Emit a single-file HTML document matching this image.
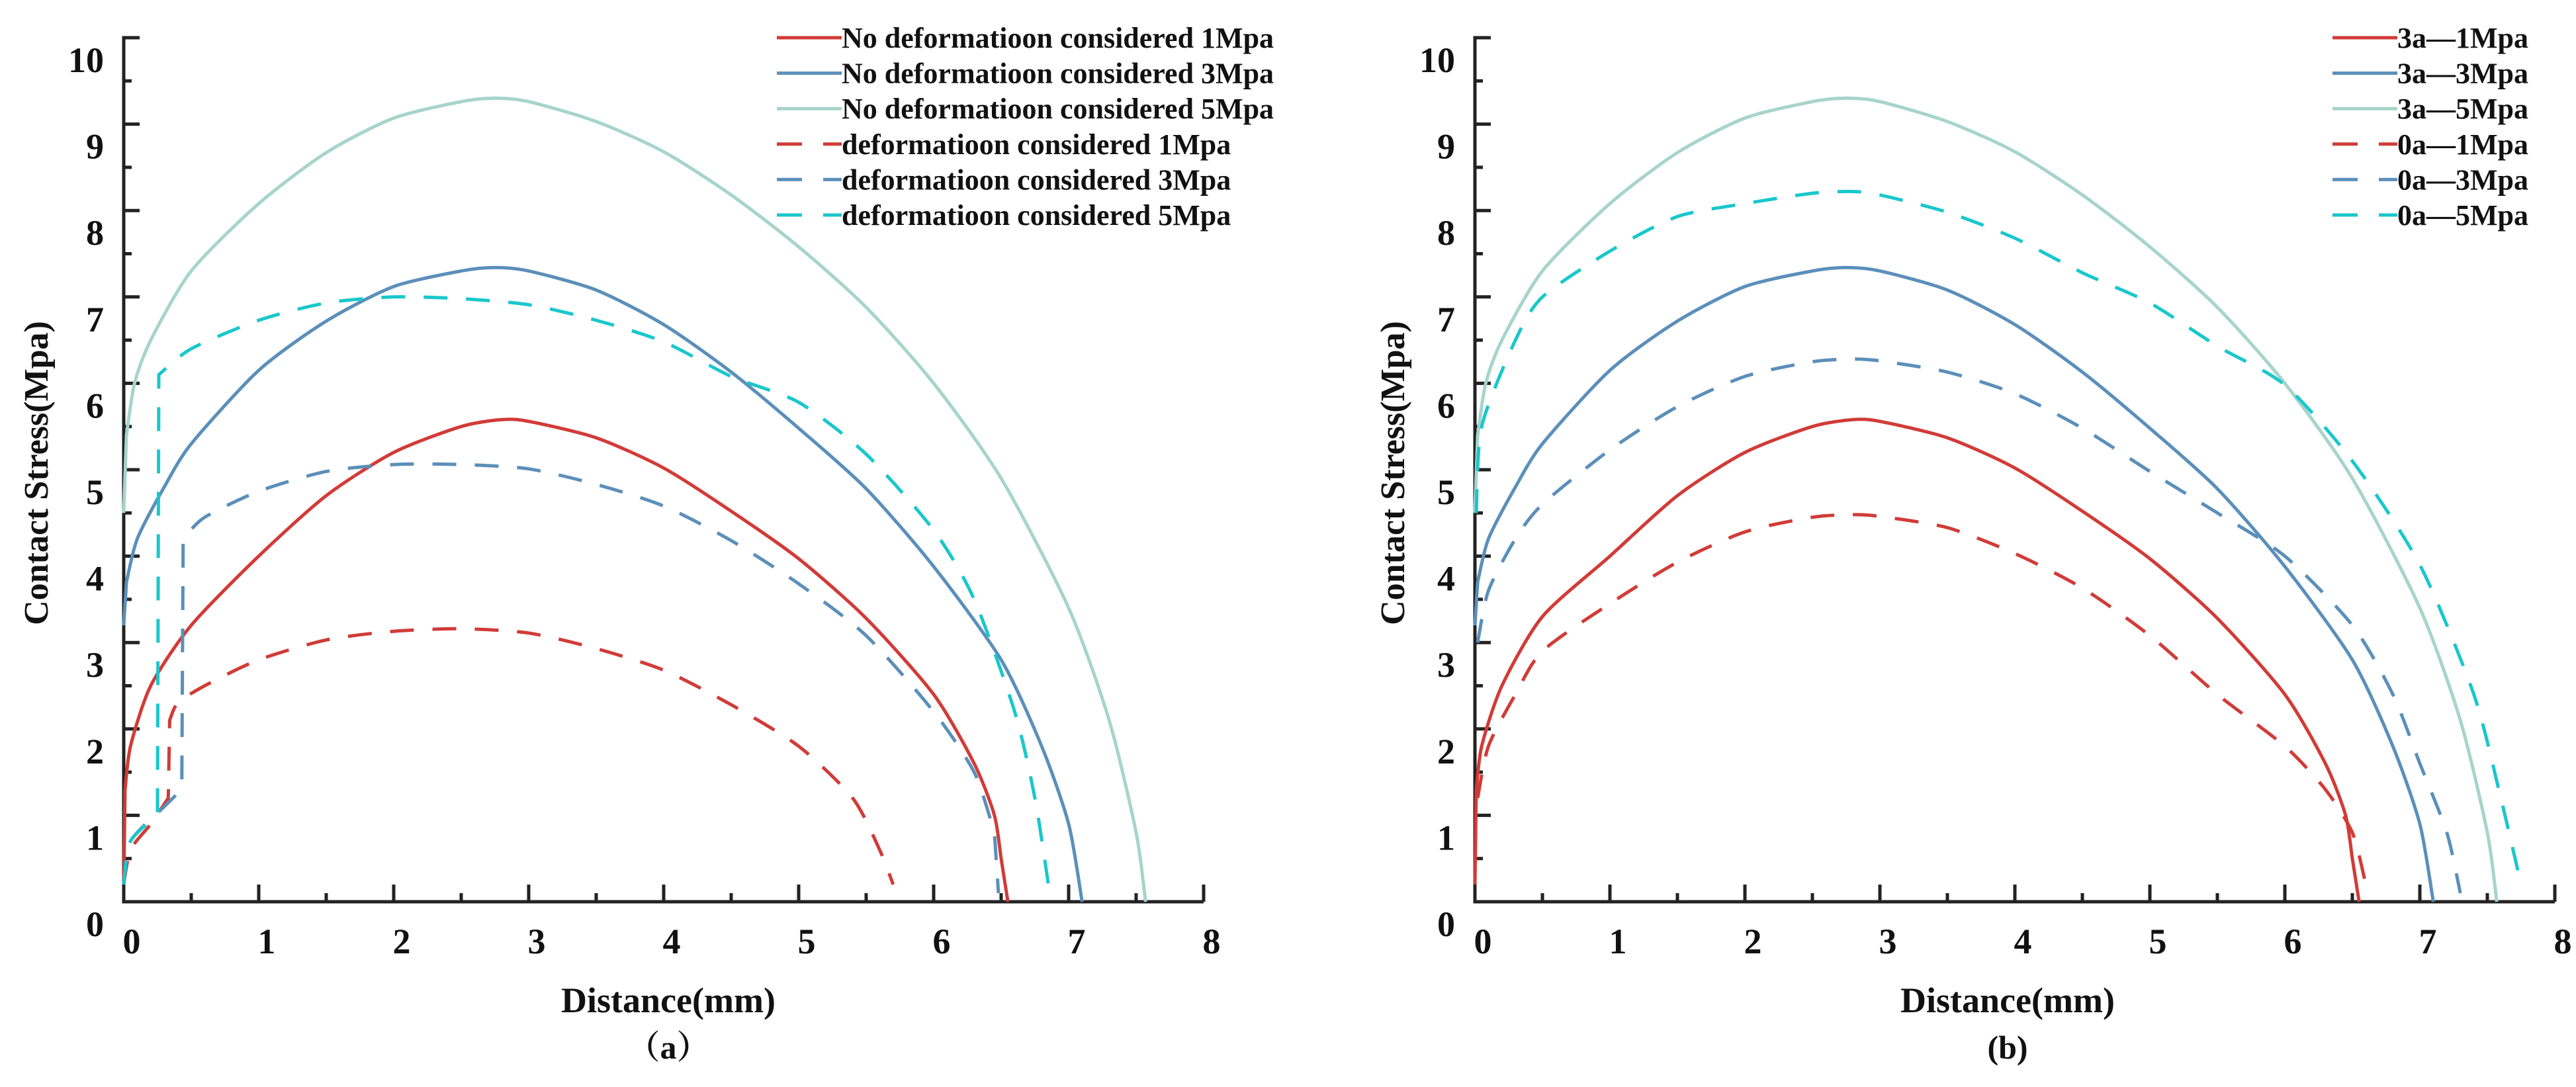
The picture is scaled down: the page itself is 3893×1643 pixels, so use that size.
<!DOCTYPE html>
<html><head><meta charset="utf-8"><style>
html,body{margin:0;padding:0;background:#fff;}
svg{display:block;}
text{font-family:"Liberation Serif",serif;font-weight:bold;fill:#111;}
</style></head><body>
<svg id="fig" width="3893" height="1643" viewBox="0 0 3893 1643" xmlns="http://www.w3.org/2000/svg"></svg>
<script>
// ---- Panel (a) data ----
const aRedSolidX = [0,0.01,0.05,0.2,0.5,1,1.5,2,2.5,2.8,3,3.5,4,4.5,5,5.5,6,6.3,6.45,6.5,6.55];
const aRedSolidY = [0.2,1.3,1.8,2.5,3.2,4.0,4.7,5.2,5.5,5.58,5.56,5.37,5.02,4.52,3.97,3.28,2.4,1.6,1.0,0.5,0];
const aBlueSolidX = [0,0.02,0.1,0.3,0.5,1,1.5,2,2.5,2.75,3,3.5,4,4.5,5,5.5,6,6.5,6.8,7,7.1];
const aBlueSolidY = [3.2,3.7,4.2,4.8,5.3,6.15,6.72,7.12,7.3,7.34,7.3,7.08,6.68,6.13,5.48,4.78,3.88,2.8,1.8,0.9,0];
const aTealSolidX = [0,0.02,0.08,0.2,0.5,1,1.5,2,2.5,2.75,3,3.5,4,4.5,5,5.5,6,6.5,7,7.3,7.5,7.57];
const aTealSolidY = [4.5,5.4,6.0,6.5,7.3,8.08,8.67,9.07,9.26,9.3,9.26,9.03,8.68,8.18,7.58,6.88,6.0,4.9,3.4,2.1,0.8,0];
const aRedDashX = [0,0.05,0.2,0.33,0.34,0.4,0.6,1,1.5,2,2.5,3,3.5,4,4.5,5,5.4,5.6,5.7];
const aRedDashY = [0.2,0.6,0.9,1.2,2.1,2.3,2.5,2.8,3.03,3.13,3.16,3.11,2.93,2.68,2.28,1.8,1.2,0.6,0.2];
const aBlueDashX = [0,0.05,0.3,0.43,0.44,0.6,1,1.5,2,2.5,3,3.5,4,4.5,5,5.5,6,6.3,6.45,6.48];
const aBlueDashY = [0.2,0.7,1.1,1.3,4.2,4.45,4.75,4.98,5.06,5.06,5.01,4.83,4.58,4.18,3.68,3.08,2.2,1.5,0.8,0.1];
const aCyanDashX = [0,0.05,0.25,0.26,0.5,1,1.5,2,2.5,3,3.5,4,4.5,5,5.5,6,6.3,6.6,6.75,6.85];
const aCyanDashY = [0.2,0.7,1.0,6.1,6.4,6.73,6.93,7.0,6.98,6.91,6.73,6.48,6.08,5.78,5.18,4.3,3.5,2.2,1.2,0.2];
// ---- Panel (b) data ----
const b3a1X = [0,0.01,0.05,0.2,0.5,1,1.5,2,2.5,2.8,3,3.5,4,4.5,5,5.5,6,6.3,6.45,6.5,6.55];
const b3a1Y = [0.2,1.3,1.8,2.5,3.3,4.0,4.7,5.2,5.5,5.58,5.56,5.37,5.02,4.52,3.97,3.28,2.4,1.6,1.0,0.5,0];
const b3a3X = [0,0.02,0.1,0.3,0.5,1,1.5,2,2.5,2.75,3,3.5,4,4.5,5,5.5,6,6.5,6.8,7,7.1];
const b3a3Y = [3.2,3.7,4.2,4.8,5.3,6.15,6.72,7.12,7.3,7.34,7.3,7.08,6.68,6.13,5.48,4.78,3.88,2.8,1.8,0.9,0];
const b3a5X = [0,0.02,0.08,0.2,0.5,1,1.5,2,2.5,2.75,3,3.5,4,4.5,5,5.5,6,6.5,7,7.3,7.5,7.57];
const b3a5Y = [4.5,5.4,6.0,6.5,7.3,8.08,8.67,9.07,9.26,9.3,9.26,9.03,8.68,8.18,7.58,6.88,6.0,4.9,3.4,2.1,0.8,0];
const b0a1X = [0.02,0.1,0.3,0.5,1,1.5,2,2.5,2.8,3,3.5,4,4.5,5,5.5,6,6.3,6.5,6.6];
const b0a1Y = [1.2,1.8,2.4,2.9,3.45,3.93,4.28,4.45,4.48,4.46,4.33,4.03,3.63,3.08,2.4,1.8,1.3,0.8,0.2];
const b0a3X = [0.02,0.1,0.3,0.5,1,1.5,2,2.5,2.8,3,3.5,4,4.5,5,5.5,6,6.5,6.8,7.0,7.2,7.3];
const b0a3Y = [3.0,3.6,4.2,4.6,5.23,5.73,6.08,6.25,6.28,6.26,6.13,5.88,5.48,4.98,4.5,4.0,3.2,2.4,1.6,0.8,0.1];
const b0a5X = [0.01,0.05,0.3,0.5,1,1.5,2,2.5,2.8,3,3.5,4,4.5,5,5.5,6,6.5,7,7.4,7.6,7.75];
const b0a5Y = [4.5,5.5,6.5,7.0,7.53,7.93,8.08,8.2,8.22,8.18,7.98,7.68,7.28,6.93,6.43,5.98,5.1,3.9,2.4,1.2,0.2];
// ---- axes ticks ----
const xTickLabels = ["0","1","2","3","4","5","6","7","8"];
const yTickLabels = ["0","1","2","3","4","5","6","7","8","9","10"];
const legendA = ["No deformatioon considered 1Mpa","No deformatioon considered 3Mpa","No deformatioon considered 5Mpa","deformatioon considered 1Mpa","deformatioon considered 3Mpa","deformatioon considered 5Mpa"];
const legendB = ["3a\u20141Mpa","3a\u20143Mpa","3a\u20145Mpa","0a\u20141Mpa","0a\u20143Mpa","0a\u20145Mpa"];

const NS="http://www.w3.org/2000/svg";
const svg=document.getElementById('fig');
const RED="#d13b37",BLUE="#5b8fba",TEAL="#a6d4cb",CYAN="#19c7cc";
function mk(tag,attrs,parent){const e=document.createElementNS(NS,tag);for(const k in attrs)e.setAttribute(k,attrs[k]);(parent||svg).appendChild(e);return e;}

function isJump(a,b){return Math.abs(b[0]-a[0])<8 && Math.abs(b[1]-a[1])>60;}
function smoothPath(P){
  let d='M'+P[0][0].toFixed(1)+' '+P[0][1].toFixed(1);
  const k=1/8;
  for(let i=0;i<P.length-1;i++){
    const p1=P[i],p2=P[i+1];
    if(isJump(p1,p2)){d+=` L${p2[0].toFixed(1)} ${p2[1].toFixed(1)}`;continue;}
    let p0=P[Math.max(0,i-1)],p3=P[Math.min(P.length-1,i+2)];
    if(i>0&&isJump(p0,p1))p0=p1;
    if(i+2<P.length&&isJump(p2,p3))p3=p2;
    const c1=[p1[0]+(p2[0]-p0[0])*k,p1[1]+(p2[1]-p0[1])*k];
    const c2=[p2[0]-(p3[0]-p1[0])*k,p2[1]-(p3[1]-p1[1])*k];
    d+=` C${c1[0].toFixed(1)} ${c1[1].toFixed(1)} ${c2[0].toFixed(1)} ${c2[1].toFixed(1)} ${p2[0].toFixed(1)} ${p2[1].toFixed(1)}`;
  }
  return d;
}

function panel(id,x0,legend,legX,lineTitles,yTitleX,series){
  const y0=1363, ux=204, uy=130.6;
  const sx=v=>x0+v*ux, sy=v=>y0-v*uy;
  const g=mk('g',{});
  
  
  const ax=mk('path',{d:`M${x0+24} ${sy(10)} H${x0} V${y0} H${sx(8)}`,fill:'none',stroke:'#222','stroke-width':5},g);
  
  
  for(let i=0;i<=16;i++){const v=i/2;const L=(i%2===0)?26:13;
    const t=mk('line',{x1:sx(v),x2:sx(v),y1:y0,y2:y0-L,stroke:'#222','stroke-width':5},g);
    
    }
  for(let i=0;i<=20;i++){const v=i/2;const L=(i%2===0)?24:12;
    const t=mk('line',{x1:x0,x2:x0+L,y1:sy(v),y2:sy(v),stroke:'#222','stroke-width':5},g);
    
    }
  xTickLabels.forEach((s,i)=>{const t=mk('text',{x:sx(i)+12,y:y0+78,'font-size':54,'text-anchor':'middle'},g);t.textContent=s;
    
    });
  yTickLabels.forEach((s,i)=>{const t=mk('text',{x:x0-30,y:sy(i)+52,'font-size':54,'text-anchor':'end'},g);t.textContent=s;
    
    });
  series.forEach(s=>{
    const pts=s.x.map((v,i)=>[sx(v),sy(s.y[i])]);
    const p=mk('path',{d:smoothPath(pts),fill:'none',stroke:s.c,'stroke-width':5,'stroke-linejoin':'round','stroke-dasharray':s.dash?'36 28':'none'},g);
    
    
  });
  series.forEach((s,i)=>{
    const y=57+i*53.6;
    const l=mk('line',{x1:legX,x2:legX+98,y1:y,y2:y,stroke:s.c,'stroke-width':5,'stroke-dasharray':s.dash?'38 32':'none'},g);
    
    
    const t=mk('text',{x:legX+98,y:y+15,'font-size':44},g);
    t.textContent=legend[i];
    
    
  });
  const xt=mk('text',{x:lineTitles,y:1530,'font-size':54,'text-anchor':'middle'},g);
  xt.textContent='Distance(mm)';
  
  
  const yt=mk('text',{x:0,y:0,'font-size':52,'text-anchor':'middle',transform:`translate(${yTitleX},715) rotate(-90)`},g);
  yt.textContent='Contact Stress(Mpa)';
  
  
  const cap=mk('text',{x:lineTitles,y:1600,'font-size':50,'text-anchor':'middle'},g);
  cap.textContent=id==='a'?'\uFF08a\uFF09':'(b)';
  if(id==='a')cap.setAttribute('style','font-family:"Liberation Serif","Noto Serif CJK SC",serif');
  
  
}

panel('a',187,legendA,1174,1010,72,[
  {x:aRedSolidX,y:aRedSolidY,c:RED,dash:false,name:'no-deformation-1mpa-line'},
  {x:aBlueSolidX,y:aBlueSolidY,c:BLUE,dash:false,name:'no-deformation-3mpa-line'},
  {x:aTealSolidX,y:aTealSolidY,c:TEAL,dash:false,name:'no-deformation-5mpa-line'},
  {x:aRedDashX,y:aRedDashY,c:RED,dash:true,name:'deformation-1mpa-line'},
  {x:aBlueDashX,y:aBlueDashY,c:BLUE,dash:true,name:'deformation-3mpa-line'},
  {x:aCyanDashX,y:aCyanDashY,c:CYAN,dash:true,name:'deformation-5mpa-line'}]);
panel('b',2229,legendB,3525,3034,2122,[
  {x:b3a1X,y:b3a1Y,c:RED,dash:false,name:'3a-1mpa-line'},
  {x:b3a3X,y:b3a3Y,c:BLUE,dash:false,name:'3a-3mpa-line'},
  {x:b3a5X,y:b3a5Y,c:TEAL,dash:false,name:'3a-5mpa-line'},
  {x:b0a1X,y:b0a1Y,c:RED,dash:true,name:'0a-1mpa-line'},
  {x:b0a3X,y:b0a3Y,c:BLUE,dash:true,name:'0a-3mpa-line'},
  {x:b0a5X,y:b0a5Y,c:CYAN,dash:true,name:'0a-5mpa-line'}]);
</script>
</body></html>
